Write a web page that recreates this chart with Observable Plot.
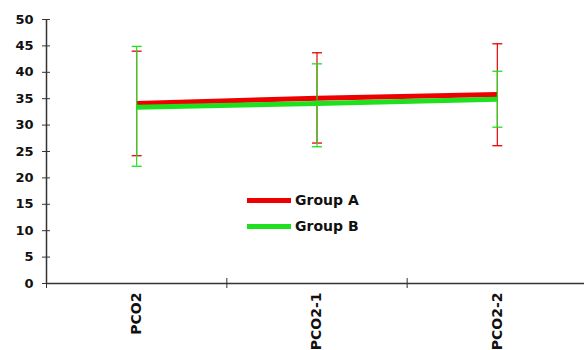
<!DOCTYPE html>
<html>
<head>
<meta charset="utf-8">
<script src="https://cdn.jsdelivr.net/npm/d3@7"></script>
<script src="https://cdn.jsdelivr.net/npm/@observablehq/plot@0.6"></script>
<style>
  body { margin: 0; background: #fff; }
  #wrap { position: relative; width: 584px; height: 350px; font-family: "DejaVu Sans", sans-serif; font-weight: bold; color: #111; }
  .leg { position: absolute; left: 247px; height: 18px; line-height: 18px; font-size: 14px; white-space: nowrap; }
  .sw { display: inline-block; width: 44px; height: 5px; vertical-align: middle; margin-right: 4px; position: relative; top: -1px; }
</style>
</head>
<body>
<div id="wrap"></div>
<script>
const categories = ["PCO2", "PCO2-1", "PCO2-2"];
const seriesNames = ["Group A", "Group B"];
const meanA = [34.1, 35.1, 35.8];
const meanB = [33.4, 34.1, 34.9];
const lowA  = [24.2, 26.6, 26.1];
const highA = [44.0, 43.7, 45.4];
const lowB  = [22.2, 25.9, 29.6];
const highB = [44.9, 41.6, 40.2];
const yTicks = [0, 5, 10, 15, 20, 25, 30, 35, 40, 45, 50];
const colors = ["#ee0000", "#1fe01f"];

const rows = (mean, low, high) => categories.map((c, i) => ({cat: c, x: i + 0.5, mean: mean[i], low: low[i], high: high[i]}));
const A = rows(meanA, lowA, highA);
const B = rows(meanB, lowB, highB);

const cap = { draw(ctx) { ctx.moveTo(-5, 0); ctx.lineTo(5, 0); } };

const seriesMarks = (data, color) => [
  Plot.line(data, {x: "x", y: "mean", stroke: color, strokeWidth: 5, strokeLinecap: "butt"}),
  Plot.ruleX(data, {x: "x", y1: "low", y2: "high", stroke: color, strokeWidth: 1.2}),
  Plot.dot(data, {x: "x", y: "high", symbol: cap, r: 3, stroke: color, strokeWidth: 1.3, fill: "none"}),
  Plot.dot(data, {x: "x", y: "low", symbol: cap, r: 3, stroke: color, strokeWidth: 1.3, fill: "none"})
];

const chart = Plot.plot({
  width: 584, height: 350,
  marginLeft: 46, marginRight: 0, marginTop: 19, marginBottom: 67,
  x: {type: "linear", domain: [0, 3], range: [46, 587], axis: null, label: null},
  y: {domain: [0, 50], axis: null, label: null},
  style: {fontFamily: "DejaVu Sans", fontWeight: "bold", color: "#111", background: "#fff"},
  marks: [
    Plot.axisY(yTicks, {tickSize: 8, dx: 4, tickFormat: () => "", stroke: "#333", label: null}),
    Plot.axisY(yTicks, {tickSize: 0, tickPadding: 13, fontSize: 13, fill: "#111", label: null}),
    Plot.axisX([0, 1, 2], {tickSize: 10, dy: -5, tickFormat: () => "", stroke: "#333", label: null}),
    Plot.axisX([0.5, 1.5, 2.5], {tickSize: 0, tickPadding: 9, tickRotate: -90, fontSize: 14, fill: "#111", label: null,
      tickFormat: d => categories[Math.floor(d)]}),
    Plot.ruleY([0], {stroke: "#333", strokeWidth: 1.5}),
    Plot.ruleX([0], {stroke: "#333", strokeWidth: 1.5}),
    ...seriesMarks(A, colors[0]),
    ...seriesMarks(B, colors[1])
  ]
});

const wrap = document.getElementById("wrap");
wrap.appendChild(chart);
seriesNames.forEach((name, i) => {
  const d = document.createElement("div");
  d.className = "leg";
  d.style.top = (191 + i * 26) + "px";
  const sw = document.createElement("span");
  sw.className = "sw";
  sw.style.background = colors[i];
  d.appendChild(sw);
  d.appendChild(document.createTextNode(name));
  wrap.appendChild(d);
});
</script>
</body>
</html>
